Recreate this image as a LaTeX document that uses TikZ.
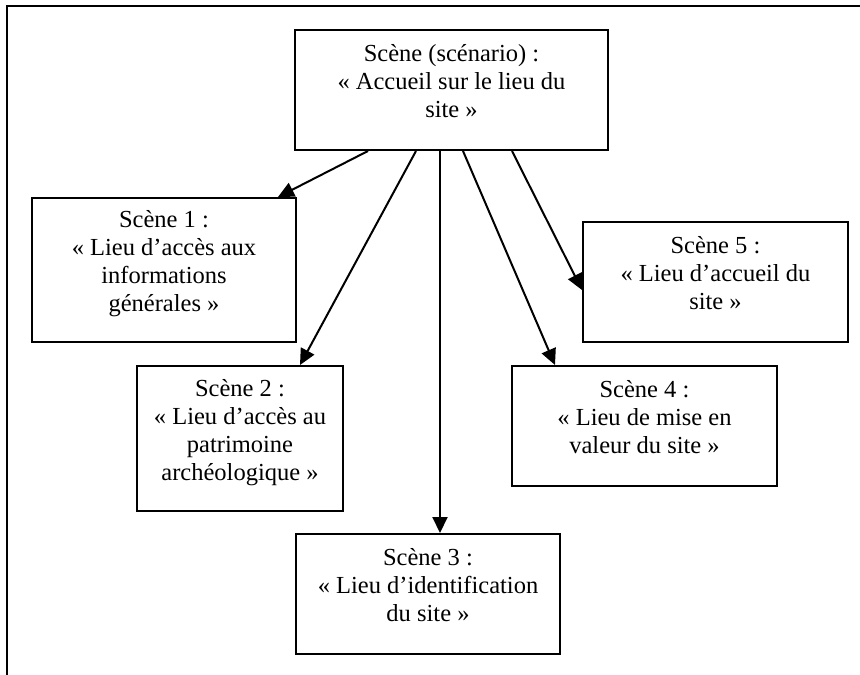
\documentclass[tikz,border=0pt]{standalone}
\usepackage{fontspec}
\setmainfont{Liberation Serif}
\usetikzlibrary{arrows.meta,positioning,calc}

\begin{document}
\begin{tikzpicture}[x=1pt, y=-1pt,
    scenebox/.style={draw, line width=2pt, align=center, inner sep=0pt,
        font=\fontsize{24.5}{28}\selectfont,
        execute at begin node={\rule{0pt}{18pt}},
        execute at end node={\rule[-18pt]{0pt}{18pt}}},
    lien/.style={line width=2pt, -{Triangle[length=16pt, width=15pt]}}]
    \useasboundingbox (0,0) rectangle (860,675);
    % page frame (top and left sides only)
    \draw[line width=2pt] (7,675) -- (7,6) -- (860,6);

    \node[scenebox, minimum width=313pt, minimum height=120pt] (accueil) at (451.5,90)
        {Scène (scénario) :\\«~Accueil sur le lieu du\\site~»};
    \node[scenebox, minimum width=264pt, minimum height=144pt] (lieu1) at (164,270)
        {Scène 1 :\\«~Lieu d’accès aux\\informations\\générales~»};
    \node[scenebox, minimum width=206pt, minimum height=145pt] (lieu2) at (240,438.5)
        {Scène 2 :\\«~Lieu d’accès au\\patrimoine\\archéologique~»};
    \node[scenebox, minimum width=264pt, minimum height=120pt] (lieu3) at (428,594)
        {Scène 3 :\\«~Lieu d’identification\\du site~»};
    \node[scenebox, minimum width=265pt, minimum height=120pt] (lieu4) at (644.5,426)
        {Scène 4 :\\«~Lieu de mise en\\valeur du site~»};
    \node[scenebox, minimum width=265pt, minimum height=120pt] (lieu5) at (715.5,282)
        {Scène 5 :\\«~Lieu d’accueil du\\site~»};

    \draw[lien] ([xshift=-83.5pt]accueil.south) -- ([xshift=114pt]lieu1.north);
    \draw[lien] ([xshift=-35.5pt]accueil.south) -- ([xshift=60pt]lieu2.north);
    \draw[lien] ([xshift=-11.5pt]accueil.south) -- ([xshift=12pt]lieu3.north);
    \draw[lien] ([xshift=11.5pt]accueil.south) -- ([xshift=-89.5pt]lieu4.north);
    \draw[lien] ([xshift=60.5pt]accueil.south) -- ([yshift=-8pt]lieu5.west);
\end{tikzpicture}
\end{document}
